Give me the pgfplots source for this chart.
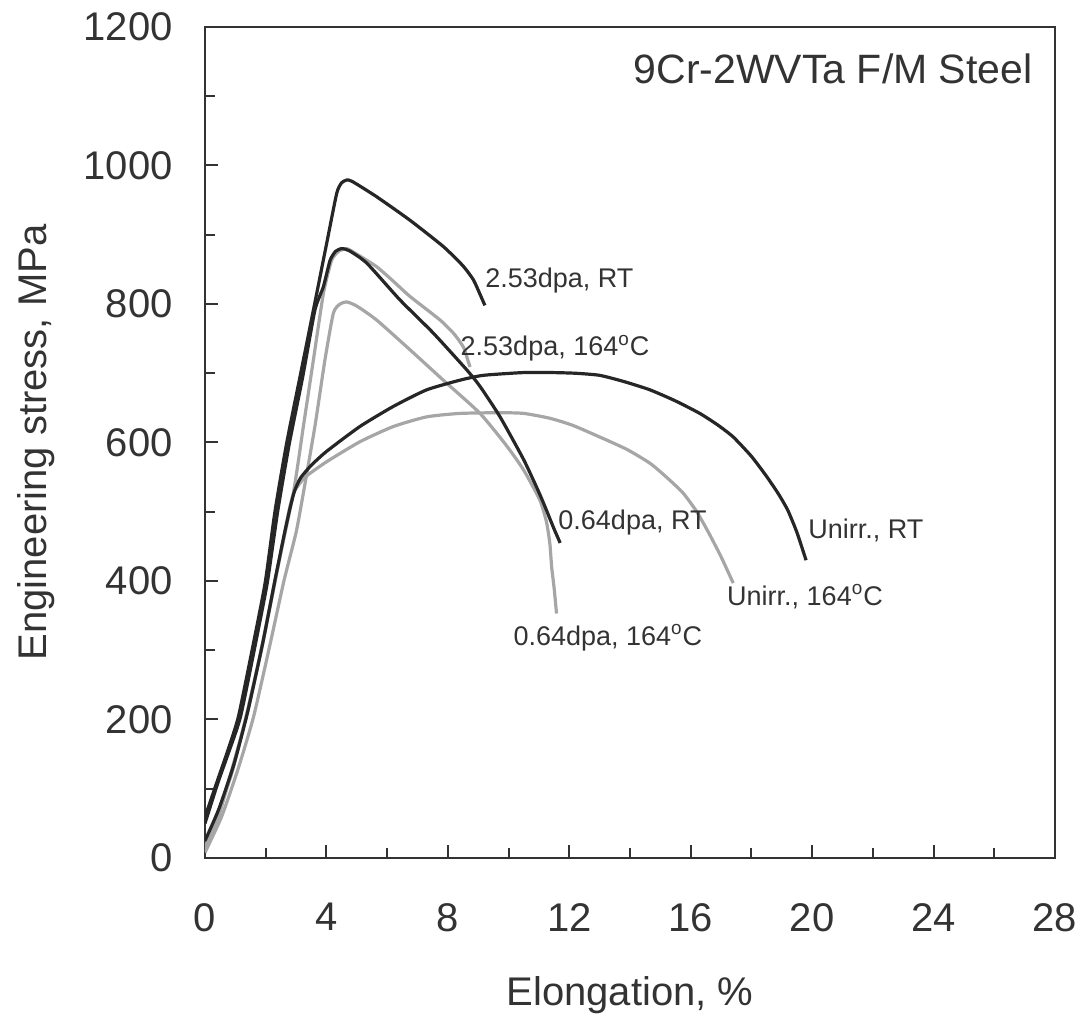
\documentclass[border=0pt]{standalone}
\usepackage{fontspec}
\setmainfont{Liberation Sans}
\usepackage{pgfplots}
\pgfplotsset{compat=1.18}

\definecolor{darkc}{HTML}{262626}
\definecolor{lightc}{HTML}{A6A6A6}
\definecolor{txt}{HTML}{333333}

\newcommand{\fsz}[1]{\fontsize{#1}{#1}\selectfont}

\begin{document}
\begin{tikzpicture}
% page = reference frame, 1 px = 0.5pt, axis box corner at (0,0)
\useasboundingbox (-102.5pt,-79.5pt) rectangle (439pt,429pt);
\begin{axis}[
  at={(0,0)}, anchor=south west,
  width=425pt, height=415.5pt,
  scale only axis,
  xmin=0, xmax=28, ymin=0, ymax=1200,
  xtick={0,4,...,28},
  ytick={0,200,...,1200},
  minor x tick num=1,
  minor y tick num=1,
  tick pos=left,
  tick align=inside,
  major tick length=6.5pt,
  minor tick length=5pt,
  axis line style={line width=1pt, txt},
  tick style={line width=1pt, txt},
  scaled ticks=false,
  /pgf/number format/assume math mode=true,
  /pgf/number format/1000 sep={},
  ticklabel style={font=\fsz{20}, text=txt},
  xticklabel style={anchor=north, inner sep=0pt, yshift=-22.5pt},
  yticklabel style={anchor=east, inner sep=0pt, xshift=-16pt},
  xlabel={Elongation, \%},
  ylabel={Engineering stress, MPa},
  xlabel style={at={(axis description cs:0.5,-0.177)}, anchor=base,
                inner sep=0pt, font=\fsz{20}, text=txt},
  ylabel style={at={(axis description cs:-0.186,0.5)}, anchor=base,
                inner sep=0pt, font=\fsz{20}, text=txt},
  every axis plot/.append style={line width=1.6pt, line join=round,
                                 smooth, tension=0.35},
]

% light curves (164 C)
\addplot[lightc] coordinates {
  (0,10) (0.45,60) (0.9,130) (1.4,210) (1.9,310) (2.3,397) (2.6,465)
  (2.8,508) (2.95,530) (3.3,550) (4.0,572) (5.1,601) (6.2,623) (7.3,637)
  (8.4,642) (9.7,643) (10.5,642) (11.36,635) (12.1,625) (13.0,608)
  (13.9,590) (14.66,570) (15.2,550) (15.75,527) (16.2,500) (16.6,469)
  (17.0,435) (17.4,397)
};
\addplot[lightc] coordinates {
  (0,15) (0.4,60) (0.9,125) (1.35,204) (1.85,300) (2.3,400) (2.91,527)
  (3.24,623) (3.57,719) (3.9,815) (4.17,863) (4.4,876) (4.67,880)
  (5.0,872) (5.65,854) (6.2,833) (6.75,811) (7.74,777) (8.2,757)
  (8.51,738) (8.65,720) (8.73,709)
};
\addplot[lightc] coordinates {
  (0,8) (0.55,60) (1.1,130) (1.6,204) (2.1,300) (2.6,400) (3.0,470)
  (3.24,527) (3.62,623) (3.95,719) (4.23,787) (4.45,800) (4.67,803)
  (5.0,797) (5.65,777) (6.75,734) (7.85,690) (9.06,642) (9.94,595)
  (10.5,560) (11.03,517) (11.25,485) (11.36,454) (11.42,420) (11.5,390)
  (11.58,353)
};

% dark curves (RT)
\addplot[darkc] coordinates {
  (0,25) (0.45,70) (0.95,135) (1.4,210) (1.9,310) (2.3,400) (2.6,465)
  (2.8,505) (2.95,530) (3.15,549) (3.5,567) (4.0,587) (5.1,623)
  (6.2,652) (7.3,676) (8.4,690) (9.17,697) (10.5,701) (11.4,701)
  (12.2,700) (13.0,697) (13.8,688) (14.66,676) (15.5,660) (16.3,642)
  (16.9,625) (17.4,608) (18.0,580) (18.5,551) (18.9,525) (19.2,502)
  (19.5,470) (19.8,430)
};
\addplot[darkc] coordinates {
  (0,59) (0.38,108) (0.75,155) (1.1,204) (1.55,300) (1.98,397)
  (2.31,502) (2.69,599) (3.13,695) (3.57,791) (4.01,888) (4.34,960)
  (4.5,975) (4.67,979) (4.85,977) (5.65,955) (6.75,921) (7.85,883)
  (8.5,855) (8.84,835) (9.05,815) (9.22,798)
};
\addplot[darkc] coordinates {
  (0,50) (0.42,108) (0.8,155) (1.17,204) (1.62,300) (2.05,397)
  (2.4,502) (2.78,599) (3.22,695) (3.62,791) (3.9,825) (4.12,863)
  (4.3,876) (4.5,880) (4.75,877) (5.33,859) (6.42,806) (7.52,758)
  (8.62,705) (9.06,681) (9.72,637) (10.5,575) (11.0,528) (11.25,502)
  (11.5,475) (11.7,455)
};

% labels
\begin{scope}[every node/.style={inner sep=0pt, anchor=base west,
                                 font=\fsz{13.5}, text=txt}]
\node at (axis cs:9.22,824) {2.53dpa, RT};
\node at (axis cs:8.41,725) {2.53dpa, 164\textsuperscript{o}C};
\node at (axis cs:11.63,474) {0.64dpa, RT};
\node at (axis cs:19.86,462) {Unirr., RT};
\node at (axis cs:17.19,365) {Unirr., 164\textsuperscript{o}C};
\node at (axis cs:10.15,307) {0.64dpa, 164\textsuperscript{o}C};
\end{scope}
\node[inner sep=0pt, anchor=base east, font=\fsz{20.5}, text=txt]
  at (axis cs:27.27,1119) {9Cr-2WVTa F/M Steel};
\end{axis}
\end{tikzpicture}
\end{document}
